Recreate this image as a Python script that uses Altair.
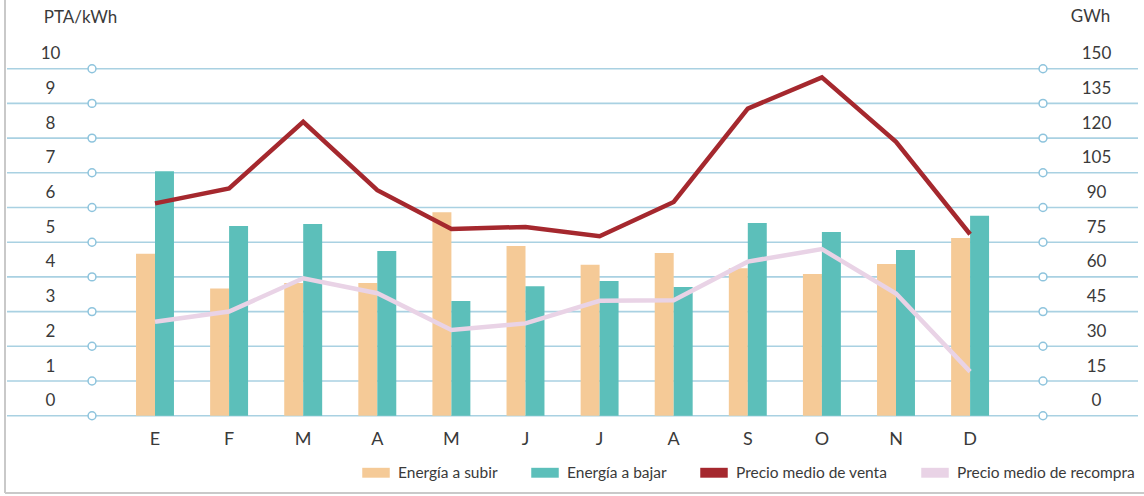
import altair as alt
import pandas as pd

# Meses (la etiqueta del eje muestra sólo la inicial)
meses = ["Enero", "Febrero", "Marzo", "Abril", "Mayo", "Junio", "Julio",
         "Agosto", "Septiembre", "Octubre", "Noviembre", "Diciembre"]

# Energía gestionada (GWh)
energia_subir = [70, 55, 57.4, 57.4, 88, 73.4, 65.2, 70.3, 63.7, 61.3, 65.6, 76.8]
energia_bajar = [105.7, 82, 82.9, 71.2, 49.6, 56, 58.2, 55.6, 83.3, 79.4, 71.6, 86.4]

# Precios medios (PTA/kWh)
precio_venta = [6.12, 6.55, 8.47, 6.5, 5.38, 5.44, 5.17, 6.16, 8.85, 9.75, 7.89, 5.23]
precio_recompra = [2.71, 3.0, 3.96, 3.53, 2.47, 2.66, 3.31, 3.33, 4.44, 4.8, 3.52, 1.27]

series = ["Energía a subir", "Energía a bajar",
          "Precio medio de venta", "Precio medio de recompra"]
colores = ["#F5CA97", "#5CBFBA", "#A5282E", "#E9D3E6"]

ticks_pta = list(range(0, 11))
ticks_gwh = list(range(0, 151, 15))

bars = pd.DataFrame(
    [{"mes": m, "serie": series[0], "gwh": v} for m, v in zip(meses, energia_subir)]
    + [{"mes": m, "serie": series[1], "gwh": v} for m, v in zip(meses, energia_bajar)]
)
lines = pd.DataFrame(
    [{"mes": m, "serie": series[2], "pta": v} for m, v in zip(meses, precio_venta)]
    + [{"mes": m, "serie": series[3], "pta": v} for m, v in zip(meses, precio_recompra)]
)
grid = pd.DataFrame({"v": ticks_pta})

FONT = "Lato"
TXT = "#3a3a3a"
Y_RANGE = [415.7, 68.7]

pta_scale = alt.Scale(domain=[0, 10], range=Y_RANGE, nice=False, zero=True)
gwh_scale = alt.Scale(domain=[0, 150], range=Y_RANGE, nice=False, zero=True)
x_scale = alt.Scale(domain=meses, range=[117.95, 1007.15],
                    paddingInner=0.488, paddingOuter=0.244)
color_scale = alt.Scale(domain=series, range=colores)

x_axis = alt.Axis(orient="bottom", offset=-80.3, domain=False, ticks=False,
                  tickSize=0, labelPadding=15, labelFontSize=18,
                  labelFont=FONT, labelColor=TXT, labelAngle=0,
                  labelExpr="substring(datum.label, 0, 1)", title=None)

# Marco gris
frame_left = alt.Chart(alt.Data(values=[{}])).mark_rule(
    color="#c9c9c9", strokeWidth=2
).encode(x=alt.value(5), y=alt.value(0), y2=alt.value(493))
frame_bottom = alt.Chart(alt.Data(values=[{}])).mark_rule(
    color="#c9c9c9", strokeWidth=2
).encode(x=alt.value(5), x2=alt.value(1144), y=alt.value(493))

# Líneas de rejilla con sus círculos
grid_rules = alt.Chart(grid).mark_rule(color="#A9D1E2", strokeWidth=1.6).encode(
    x=alt.value(7), x2=alt.value(1138),
    y=alt.Y("v:Q", scale=pta_scale, axis=None),
)
dots_left = alt.Chart(grid).mark_point(
    shape="circle", fill="white", fillOpacity=1, stroke="#8EC4DD",
    strokeWidth=1.5, size=62, opacity=1
).encode(x=alt.value(92), y=alt.Y("v:Q", scale=pta_scale, axis=None))
dots_right = alt.Chart(grid).mark_point(
    shape="circle", fill="white", fillOpacity=1, stroke="#8EC4DD",
    strokeWidth=1.5, size=62, opacity=1
).encode(x=alt.value(1043), y=alt.Y("v:Q", scale=pta_scale, axis=None))

bar_layer = alt.Chart(bars).mark_bar().encode(
    x=alt.X("mes:N", scale=x_scale, sort=meses, axis=x_axis),
    xOffset=alt.XOffset("serie:N", scale=alt.Scale(domain=series[:2],
                                                   paddingInner=0, paddingOuter=0)),
    y=alt.Y("gwh:Q", scale=gwh_scale,
            axis=alt.Axis(orient="right", offset=-68, domain=False, ticks=False,
                          tickSize=0, grid=False, values=ticks_gwh,
                          labelAlign="center", labelBaseline="middle",
                          labelPadding=20, labelOffset=-15, labelFontSize=17,
                          labelFont=FONT, labelColor=TXT,
                          title="GWh", titleAngle=0, titleX=14, titleY=16,
                          titleAlign="center", titleBaseline="middle",
                          titleFont=FONT, titleFontSize=17,
                          titleFontWeight="normal", titleColor=TXT)),
    color=alt.Color("serie:N", scale=color_scale,
                    legend=alt.Legend(orient="none", legendX=362, legendY=458.5,
                                      direction="horizontal", title=None,
                                      symbolType="M-1,-0.36L1,-0.36L1,0.36L-1,0.36Z",
                                      symbolSize=756, symbolStrokeWidth=0,
                                      labelFont=FONT, labelFontSize=15.5,
                                      labelColor=TXT, labelOffset=8,
                                      labelLimit=400, columnPadding=33)),
)

line_layer = alt.Chart(lines).mark_line(strokeWidth=4.5, strokeCap="butt",
                                        strokeJoin="miter").encode(
    x=alt.X("mes:N", scale=x_scale, sort=meses, axis=x_axis),
    y=alt.Y("pta:Q", scale=pta_scale,
            axis=alt.Axis(orient="left", offset=-70, domain=False, ticks=False,
                          tickSize=0, grid=False, values=ticks_pta,
                          labelAlign="center", labelBaseline="middle",
                          labelPadding=20, labelOffset=-15, labelFontSize=17,
                          labelFont=FONT, labelColor=TXT,
                          title="PTA/kWh", titleAngle=0, titleX=10, titleY=17,
                          titleAlign="center", titleBaseline="middle",
                          titleFont=FONT, titleFontSize=17,
                          titleFontWeight="normal", titleColor=TXT)),
    color=alt.Color("serie:N", scale=color_scale, legend=None),
)

chart = alt.layer(
    frame_left, frame_bottom, grid_rules, dots_left, dots_right, bar_layer, line_layer
).resolve_scale(y="independent").properties(
    width=1144, height=496, padding=0, autosize=alt.AutoSizeParams(type="none"),
    background="white",
).configure_view(stroke=None)

chart.save("out.html", embed_options={"renderer": "svg", "actions": False})
